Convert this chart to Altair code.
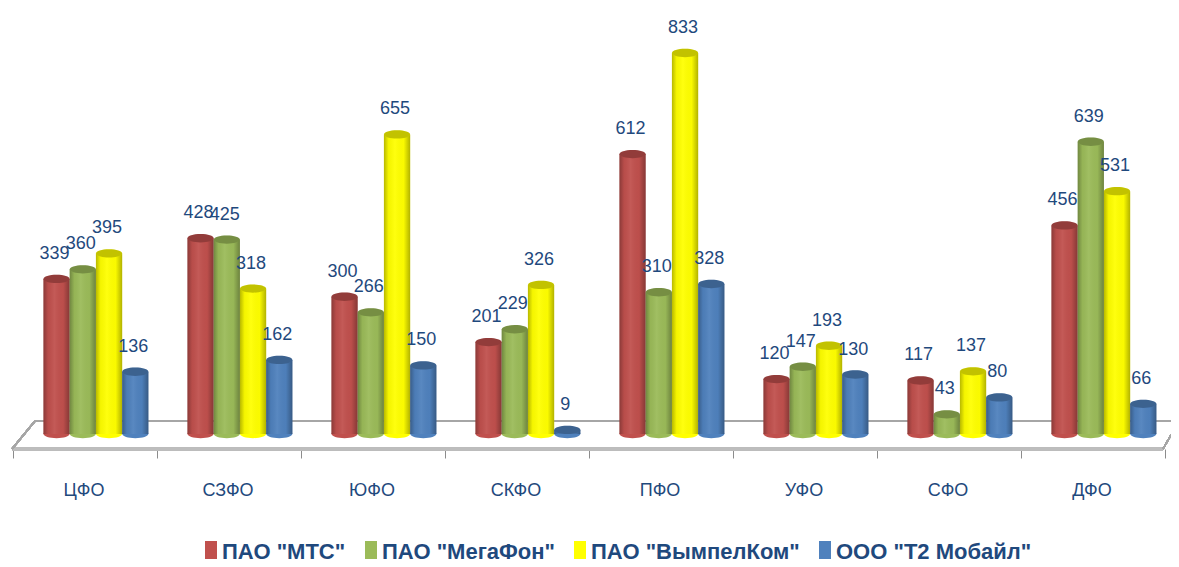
import altair as alt
import pandas as pd

categories = ["ЦФО", "СЗФО", "ЮФО", "СКФО", "ПФО", "УФО", "СФО", "ДФО"]
series = ['ПАО "МТС"', 'ПАО "МегаФон"', 'ПАО "ВымпелКом"', 'ООО "Т2 Мобайл"']
colors = ["#C0504D", "#9BBB59", "#FFFF00", "#4F81BD"]
mts = [339, 428, 300, 201, 612, 120, 117, 456]
megafon = [360, 425, 266, 229, 310, 147, 43, 639]
beeline = [395, 318, 655, 326, 833, 193, 137, 531]
t2 = [136, 162, 150, 9, 328, 130, 80, 66]

rows = []
for s, vals in zip(series, [mts, megafon, beeline, t2]):
    for c, v in zip(categories, vals):
        rows.append({"cat": c, "series": s, "value": v, "zero": 0})
df = pd.DataFrame(rows)

FONT = "Liberation Sans"
TXT = "#1F497D"
ELL = "M-1,0A1,0.32,0,1,1,1,0A1,0.32,0,1,1,-1,0Z"

xs = alt.Scale(domain=categories, range=[5, 1157], paddingInner=0, paddingOuter=0)
x = alt.X("cat:N", scale=xs, title=None,
          axis=alt.Axis(domain=False, grid=False, ticks=True, tickBand="extent",
                        tickColor="#8c8c8c", tickSize=9, tickWidth=1,
                        labelOffset=-1.5, labelAngle=0, labelFont=FONT, labelFontSize=18,
                        labelColor=TXT, labelPadding=23))
xo = alt.XOffset("series:N", scale=alt.Scale(domain=series, paddingInner=0, paddingOuter=0.743, align=0.78))
yscale = alt.Scale(domain=[0, 833], range=[426, 45], nice=False, zero=True)
y = alt.Y("value:Q", stack=None, title=None, axis=None, scale=yscale)
yz = alt.Y("zero:Q", stack=None, title=None, axis=None, scale=yscale)

legend = alt.Legend(orient="none", legendX=192, legendY=533, direction="horizontal",
                    columns=4, symbolType="M-1,-1.83H1V1.83H-1Z", symbolSize=144,
                    symbolStrokeWidth=0, symbolOpacity=1,
                    labelFont=FONT, labelFontSize=22, labelFontWeight="bold",
                    labelColor=TXT, labelLimit=300, columnPadding=14,
                    labelOffset=0, padding=0)
color = alt.Color("series:N", scale=alt.Scale(domain=series, range=colors), title=None, legend=legend)

base = alt.Chart(df)

back = base.mark_rule(color="#a6a6a6", strokeWidth=1.5).encode(
    x=alt.value(27), x2=alt.value(1163), y=alt.value(413))
front = base.mark_rule(color="#bdbdbd", strokeWidth=3.5).encode(
    x=alt.value(4), x2=alt.value(1155), y=alt.value(441))
left = base.mark_rule(color="#a6a6a6", strokeWidth=1.5).encode(
    x=alt.value(4), x2=alt.value(27), y=alt.value(441), y2=alt.value(413))
right = base.mark_rule(color="#a6a6a6", strokeWidth=1.5).encode(
    x=alt.value(1155), x2=alt.value(1163), y=alt.value(441), y2=alt.value(427))

bars = base.mark_bar().encode(x=x, xOffset=xo, y=y, color=color)

shade = alt.Gradient(gradient="linear", x1=0, x2=1, y1=0, y2=0, stops=[
    alt.GradientStop(color="rgba(0,0,0,0.28)", offset=0),
    alt.GradientStop(color="rgba(0,0,0,0.04)", offset=0.18),
    alt.GradientStop(color="rgba(255,255,255,0.06)", offset=0.42),
    alt.GradientStop(color="rgba(0,0,0,0.02)", offset=0.75),
    alt.GradientStop(color="rgba(0,0,0,0.30)", offset=1),
])
shading = base.mark_bar(color=shade).encode(x=x, xOffset=xo, y=y)

bottom = base.mark_point(filled=True, opacity=1, size=680, shape=ELL).encode(
    x=x, xOffset=xo, y=yz, color=color)
cap = base.mark_point(filled=True, opacity=1, size=680, shape=ELL).encode(
    x=x, xOffset=xo, y=y, color=color)
cap_dark = base.mark_point(filled=True, opacity=0.24, size=680, shape=ELL, color="#000000").encode(
    x=x, xOffset=xo, y=y)

labels = base.mark_text(font=FONT, fontSize=18, color=TXT, baseline="alphabetic", dy=-20, dx=-2).encode(
    x=x, xOffset=xo, y=y, text="value:Q")

chart = alt.layer(back, front, left, right, bottom, bars, shading, cap, cap_dark, labels).properties(
    width=1163, height=441,
    background="#ffffff",
    autosize=alt.AutoSizeParams(type="none"),
    padding={"left": 0, "top": 0, "right": 0, "bottom": 110},
).configure_view(stroke=None)

chart.save("out.html", embed_options={"renderer": "svg", "actions": False})
